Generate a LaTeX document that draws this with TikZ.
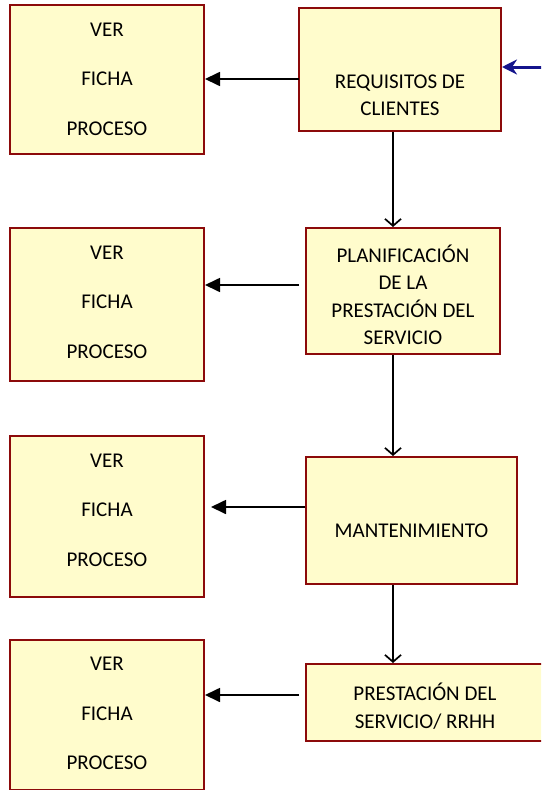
\documentclass[tikz,border=0pt]{standalone}
\usepackage{fontspec}
\setmainfont{Carlito}
\usetikzlibrary{arrows.meta,calc}
\definecolor{boxfill}{RGB}{255,252,204}
\definecolor{boxline}{RGB}{140,10,10}
\definecolor{navyarrow}{RGB}{20,20,140}
\tikzset{
  box/.style={draw=boxline, fill=boxfill, line width=2pt, inner sep=0pt},
  fichatext/.style={align=center, font=\fontsize{21}{49.5}\selectfont, inner sep=0pt, text=black},
  steptext/.style={align=center, font=\fontsize{21}{27.5}\selectfont, inner sep=0pt, text=black},
  leftarrow/.style={line width=1.7pt, -{Triangle[length=15pt,width=14pt]}},
  downarrow/.style={line width=1.7pt, -{Straight Barb[length=7pt,width=16pt,line width=1.7pt]}},
  bluearrow/.style={draw=navyarrow, line width=3pt, -{Stealth[length=15pt,width=15pt]}}
}
\begin{document}
\begin{tikzpicture}[x=1pt,y=-1pt]
\useasboundingbox (0,0) rectangle (541,790);
\clip (0,0) rectangle (541,790);
\fill[white] (0,0) rectangle (541,790);
% left boxes
\node[box, minimum width=194pt, minimum height=149pt] (l1) at (107,79.5) {};
\node[box, minimum width=194pt, minimum height=153pt] (l2) at (107,304.5) {};
\node[box, minimum width=194pt, minimum height=161pt] (l3) at (107,516.5) {};
\node[box, minimum width=194pt, minimum height=150pt] (l4) at (107,715) {};
% right boxes
\node[box, minimum width=202pt, minimum height=123pt] (r1) at (400,69.5) {};
\node[box, minimum width=194pt, minimum height=126pt] (r2) at (403,291) {};
\node[box, minimum width=211pt, minimum height=127pt] (r3) at (411.5,520.5) {};
\node[box, minimum width=254pt, minimum height=77pt] (r4) at (433,702.5) {};
% texts
\node[fichatext] (t1) at (107,79) {VER\\FICHA\\PROCESO};
\node[fichatext] (t2) at (107,302) {VER\\FICHA\\PROCESO};
\node[fichatext] (t3) at (107,510) {VER\\FICHA\\PROCESO};
\node[fichatext] (t4) at (107,713.5) {VER\\FICHA\\PROCESO};
\node[steptext] (u1) at (400,95.5) {REQUISITOS DE\\CLIENTES};
\node[steptext] (u2) at (403,295) {PLANIFICACIÓN\\DE LA\\PRESTACIÓN DEL\\SERVICIO};
\node[steptext] (u3) at (411.5,531) {MANTENIMIENTO};
\node[steptext] (u4) at (425,706) {PRESTACIÓN DEL\\SERVICIO/ RRHH};
% horizontal arrows
\coordinate (s1) at (299,79);
\coordinate (s2) at (299,285);
\coordinate (s3) at (305,507);
\coordinate (e3) at (211,507);
\coordinate (s4) at (299,695);
\draw[leftarrow] (s1) -- (s1 -| l1.east);
\draw[leftarrow] (s2) -- (s2 -| l2.east);
\draw[leftarrow] (s3) -- (e3);
\draw[leftarrow] (s4) -- (s4 -| l4.east);
% vertical arrows
\coordinate (vx) at (393,0);
\draw[downarrow] (r1.south -| vx) -- (r2.north -| vx);
\draw[downarrow] (r2.south -| vx) -- (r3.north -| vx);
\draw[downarrow] (r3.south -| vx) -- (r4.north -| vx);
% blue input arrow
\coordinate (b) at (545,67);
\draw[bluearrow] (b) -- (b -| r1.east);
\end{tikzpicture}
\end{document}
